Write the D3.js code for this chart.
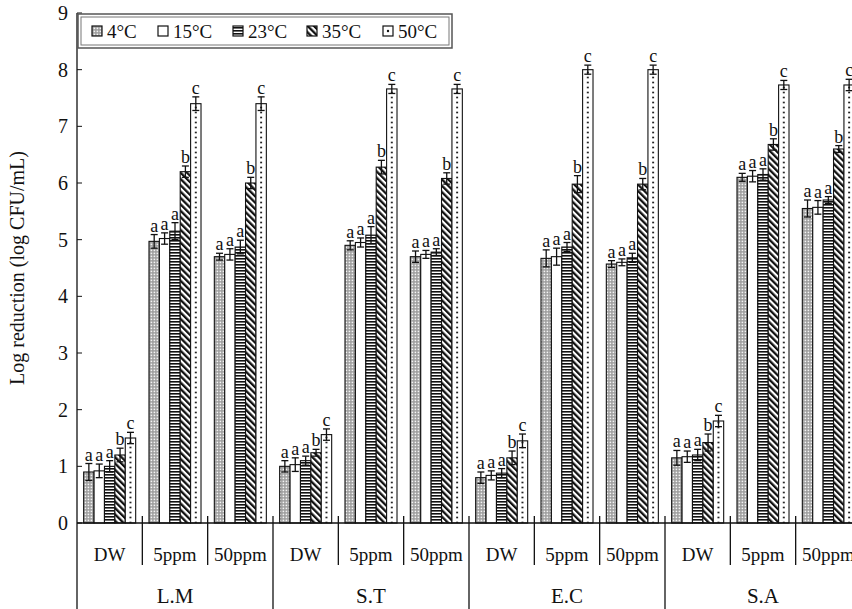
<!DOCTYPE html>
<html><head><meta charset="utf-8">
<script src="https://cdn.jsdelivr.net/npm/d3@7"></script>
<style>body{margin:0;background:#fff}svg{display:block}</style>
</head><body><svg id="c" width="852" height="609"></svg>
<script>
const groups = ["L.M","S.T","E.C","S.A"];
const treatments = ["DW","5ppm","50ppm"];
const temps = ["4°C","15°C","23°C","35°C","50°C"];
const yTicks = [0,1,2,3,4,5,6,7,8,9];
// values, ordered L.M(DW,5ppm,50ppm), S.T(...), E.C(...), S.A(...)
const t4  = [0.90, 4.97, 4.70, 1.00, 4.90, 4.70, 0.80, 4.67, 4.57, 1.15, 6.10, 5.55];
const t15 = [0.92, 5.02, 4.74, 1.03, 4.95, 4.74, 0.84, 4.70, 4.60, 1.17, 6.12, 5.57];
const t23 = [1.00, 5.15, 4.87, 1.10, 5.08, 4.78, 0.88, 4.87, 4.68, 1.20, 6.15, 5.70];
const t35 = [1.20, 6.20, 6.00, 1.24, 6.28, 6.08, 1.15, 5.98, 5.98, 1.42, 6.68, 6.60];
const t50 = [1.50, 7.40, 7.40, 1.56, 7.66, 7.66, 1.45, 8.00, 8.00, 1.80, 7.73, 7.73];
const e4  = [0.15, 0.12, 0.06, 0.10, 0.08, 0.10, 0.10, 0.15, 0.06, 0.13, 0.07, 0.15];
const e15 = [0.12, 0.10, 0.10, 0.12, 0.08, 0.07, 0.08, 0.15, 0.06, 0.10, 0.10, 0.12];
const e23 = [0.10, 0.15, 0.12, 0.08, 0.15, 0.06, 0.08, 0.08, 0.08, 0.10, 0.10, 0.06];
const e35 = [0.12, 0.10, 0.10, 0.06, 0.12, 0.10, 0.12, 0.15, 0.10, 0.15, 0.10, 0.06];
const e50 = [0.10, 0.12, 0.12, 0.10, 0.08, 0.08, 0.12, 0.08, 0.08, 0.10, 0.08, 0.10];
const letters = ["a","a","a","b","c"];

const values = [t4,t15,t23,t35,t50];
const errors = [e4,e15,e23,e35,e50];
const FONT = "'Liberation Serif','Times New Roman',serif";

const svg = d3.select("#c");
const mLeft = 77, mRight = 861, base = 523, mTop = 13;
const subs = [];
groups.forEach(g => treatments.forEach(t => subs.push(g + "|" + t)));
const x0 = d3.scaleBand().domain(subs).range([mLeft, mRight]).padding(0);
const xg = d3.scaleBand().domain(groups).range([mLeft, mRight]).padding(0);
const x1 = d3.scaleBand().domain(temps).range([0, x0.bandwidth()]).paddingInner(0).paddingOuter(0.64);
const y = d3.scaleLinear().domain([0, 9]).range([base, mTop]);

// patterns
const defs = svg.append("defs");
const p4 = defs.append("pattern").attr("id","p4").attr("patternUnits","userSpaceOnUse").attr("width",3).attr("height",3);
p4.append("rect").attr("width",3).attr("height",3).attr("fill","#9c9c9c");
p4.append("rect").attr("x",0.6).attr("y",0.6).attr("width",1.6).attr("height",1.6).attr("fill","#f4f4f4");
const p23 = defs.append("pattern").attr("id","p23").attr("patternUnits","userSpaceOnUse").attr("width",4).attr("height",3);
p23.append("rect").attr("width",4).attr("height",3).attr("fill","#fff");
p23.append("rect").attr("y",0).attr("width",4).attr("height",1.6).attr("fill","#111");
const p35 = defs.append("pattern").attr("id","p35").attr("patternUnits","userSpaceOnUse").attr("width",4.5).attr("height",4.5).attr("patternTransform","rotate(-45)");
p35.append("rect").attr("width",4.5).attr("height",4.5).attr("fill","#fff");
p35.append("rect").attr("width",2.3).attr("height",4.5).attr("fill","#111");
const dotCx = (x0(subs[0]) + x1("50°C") + x1.bandwidth()/2) - mLeft;
const p50 = defs.append("pattern").attr("id","p50").attr("patternUnits","userSpaceOnUse")
  .attr("x", mLeft).attr("y", 0).attr("width", x0.step()).attr("height",5);
p50.append("rect").attr("width",x0.step()).attr("height",5).attr("fill","#fff");
p50.append("circle").attr("cx",dotCx).attr("cy",2.5).attr("r",1).attr("fill","#111");
const fills = ["url(#p4)","#fff","url(#p23)","url(#p35)","url(#p50)"];

// bars
const bars = [];
temps.forEach((t, ti) => subs.forEach((s, si) => bars.push({t, ti, s, v: values[ti][si], e: errors[ti][si], l: letters[ti]})));
const gBars = svg.append("g");
gBars.selectAll("rect").data(bars).join("rect")
  .attr("x", d => x0(d.s) + x1(d.t))
  .attr("y", d => y(d.v))
  .attr("width", x1.bandwidth())
  .attr("height", d => y(0) - y(d.v))
  .attr("fill", d => fills[d.ti])
  .attr("stroke", "#111").attr("stroke-width", 1.1);

// error bars
const gErr = svg.append("g").attr("stroke","#111").attr("stroke-width",1.3);
bars.forEach(d => {
  const cx = x0(d.s) + x1(d.t) + x1.bandwidth()/2;
  const y1 = y(d.v + d.e), y2 = y(d.v - d.e);
  gErr.append("line").attr("x1",cx).attr("x2",cx).attr("y1",y1).attr("y2",y2);
  gErr.append("line").attr("x1",cx-3.5).attr("x2",cx+3.5).attr("y1",y1).attr("y2",y1);
  gErr.append("line").attr("x1",cx-3.5).attr("x2",cx+3.5).attr("y1",y2).attr("y2",y2);
});
svg.append("g").selectAll("text").data(bars).join("text")
  .attr("x", d => x0(d.s) + x1(d.t) + x1.bandwidth()/2)
  .attr("y", d => y(d.v + d.e) - 3)
  .attr("text-anchor","middle")
  .attr("font-family",FONT).attr("font-size",18).attr("fill","#111")
  .text(d => d.l);

// y axis
const ax = svg.append("g").attr("stroke","#111");
ax.append("line").attr("x1",mLeft).attr("x2",mLeft).attr("y1",mTop).attr("y2",609).attr("stroke-width",1.3);
ax.append("line").attr("x1",mLeft).attr("x2",852).attr("y1",base).attr("y2",base).attr("stroke-width",1.3);
yTicks.forEach(v => {
  ax.append("line").attr("x1",mLeft).attr("x2",mLeft+5).attr("y1",y(v)).attr("y2",y(v));
});
svg.append("g").selectAll("text").data(yTicks).join("text")
  .attr("x", mLeft - 9).attr("y", d => y(d)).attr("dy","0.35em")
  .attr("text-anchor","end").attr("font-family",FONT).attr("font-size",20).attr("fill","#111")
  .text(d => d);
svg.append("text").attr("transform",`translate(24,${(mTop+base)/2}) rotate(-90)`)
  .attr("text-anchor","middle").attr("font-family",FONT).attr("font-size",20).attr("fill","#111")
  .text("Log reduction (log CFU/mL)");

// x category structure
subs.forEach((s, i) => {
  if (i > 0 && i % 3 !== 0) {
    ax.append("line").attr("x1",x0(s)).attr("x2",x0(s)).attr("y1",base-7).attr("y2",565).attr("stroke-width",1.3);
  }
});
groups.forEach((g, i) => {
  if (i > 0) ax.append("line").attr("x1",xg(g)).attr("x2",xg(g)).attr("y1",base-7).attr("y2",609).attr("stroke-width",1.3);
});
svg.append("g").selectAll("text").data(subs).join("text")
  .attr("x", d => x0(d) + x0.bandwidth()/2).attr("y", 561)
  .attr("text-anchor","middle").attr("font-family",FONT).attr("font-size",19).attr("fill","#111")
  .text(d => d.split("|")[1]);
svg.append("g").selectAll("text").data(groups).join("text")
  .attr("x", d => xg(d) + xg.bandwidth()/2).attr("y", 603)
  .attr("text-anchor","middle").attr("font-family",FONT).attr("font-size",21).attr("fill","#111")
  .text(d => d);

// legend
const lg = svg.append("g");
lg.append("rect").attr("x",78).attr("y",14).attr("width",374).attr("height",34).attr("fill","#fff").attr("stroke","#555").attr("stroke-width",1.5);
lg.append("rect").attr("x",81).attr("y",17).attr("width",368).attr("height",28).attr("fill","none").attr("stroke","#777").attr("stroke-width",1);
const legX = [92, 158, 233, 307, 383];
temps.forEach((t, i) => {
  const gx = legX[i];
  const fill = i === 4 ? "#fff" : fills[i];
  lg.append("rect").attr("x",gx).attr("y",26).attr("width",10).attr("height",10).attr("fill",fill).attr("stroke","#111").attr("stroke-width",1.2);
  if (i === 4) lg.append("circle").attr("cx",gx+5).attr("cy",31).attr("r",1.2).attr("fill","#111");
  lg.append("text").attr("x",gx+15).attr("y",31).attr("dy","0.35em").attr("font-family",FONT).attr("font-size",19).attr("fill","#111").text(t);
});
</script></body></html>
